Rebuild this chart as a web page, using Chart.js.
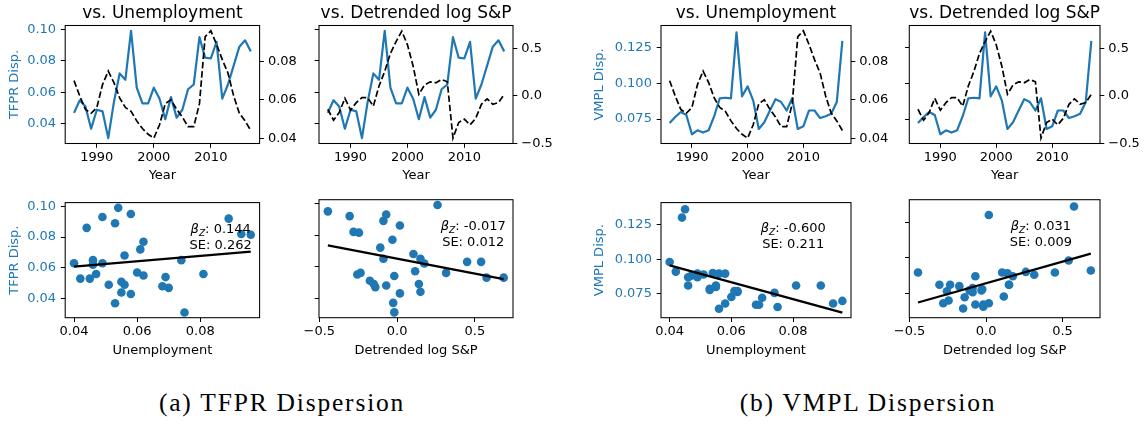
<!DOCTYPE html>
<html>
<head>
<meta charset="utf-8">
<script src="https://cdn.jsdelivr.net/npm/chart.js@4.4.1/dist/chart.umd.min.js"></script>
<style>
  html, body { margin: 0; padding: 0; background: #fff; }
  #fig { position: relative; width: 1146px; height: 423px; overflow: hidden; background: #fff; }
  #fig canvas { position: absolute; }
  .cap {
    position: absolute; top: 390px; transform: translateX(-50%);
    font-family: "Liberation Serif", serif; font-size: 25.5px; letter-spacing: 1.8px;
    line-height: 1; white-space: nowrap; color: #000;
  }
</style>
</head>
<body>
<div id="fig">
  <div class="cap" style="left:282px">(a) TFPR Dispersion</div>
  <div class="cap" style="left:868px">(b) VMPL Dispersion</div>
</div>
<script>
// ---- data ----
const years = [1986, 1987, 1988, 1989, 1990, 1991, 1992, 1993, 1994, 1995, 1996,
               1997, 1998, 1999, 2000, 2001, 2002, 2003, 2004, 2005, 2006, 2007,
               2008, 2009, 2010, 2011, 2012, 2013, 2014, 2015, 2016, 2017];
const tfprDisp = [0.047, 0.055, 0.051, 0.037, 0.049, 0.048, 0.031, 0.054, 0.072, 0.068, 0.099,
                  0.063, 0.053, 0.053, 0.063, 0.056, 0.043, 0.057, 0.044, 0.049, 0.062, 0.065,
                  0.095, 0.082, 0.0815, 0.092, 0.056, 0.065, 0.077, 0.089, 0.093, 0.086];
const vmplDisp = [0.0722, 0.0764, 0.080, 0.0778, 0.0643, 0.0671, 0.0655, 0.0671, 0.077, 0.0896, 0.090,
                  0.0896, 0.136, 0.091, 0.098, 0.088, 0.068, 0.0727, 0.081, 0.089, 0.087, 0.081,
                  0.0896, 0.068, 0.0699, 0.081, 0.081, 0.0757, 0.077, 0.0787, 0.087, 0.130];
const unemployment = [0.070, 0.062, 0.055, 0.053, 0.056, 0.068, 0.075, 0.069, 0.061, 0.056, 0.054,
                      0.049, 0.045, 0.042, 0.040, 0.047, 0.058, 0.060, 0.055, 0.051, 0.046, 0.046,
                      0.058, 0.093, 0.096, 0.089, 0.081, 0.074, 0.062, 0.053, 0.049, 0.044];
const detrendedSP = [-0.14, -0.256, -0.175, -0.025, -0.15, -0.07, -0.018, -0.018, -0.108, 0.105, 0.26,
                     0.45, 0.575, 0.685, 0.54, 0.315, 0.018, 0.116, 0.15, 0.14, 0.175, 0.15,
                     -0.445, -0.28, -0.245, -0.305, -0.235, -0.088, -0.03, -0.088, -0.07, 0.018];

// fitted lines in the scatter panels (end points)
const fitTfprUnempX = [0.040, 0.096], fitTfprUnempY = [0.0608, 0.0706];
const fitTfprSpX    = [-0.445, 0.685], fitTfprSpY  = [0.0735, 0.052];
const fitVmplUnempX = [0.040, 0.096], fitVmplUnempY = [0.0956, 0.0614];
const fitVmplSpX    = [-0.445, 0.685], fitVmplSpY  = [0.0685, 0.1028];

// regression stats shown in the panels: [beta, SE]
const statTfprUnemp = ['0.144', '0.262'];
const statTfprSp    = ['-0.017', '0.012'];
const statVmplUnemp = ['-0.600', '0.211'];
const statVmplSp    = ['0.031', '0.009'];

// ticks and axis limits
const yearTicks = [1990, 2000, 2010];
const unempTicks = [0.04, 0.06, 0.08];
const spTicks = [-0.5, 0, 0.5];
const tfprTicks = [0.04, 0.06, 0.08, 0.10];
const vmplTicks = [0.075, 0.100, 0.125];

const yearRange = [1984.45, 2018.55];
const unempRange = [0.0372, 0.0988];
const spRange = [-0.502, 0.745];
const tfprRange = [0.0276, 0.1024];
const vmplRange = [0.0578, 0.1408];

// ---- styling ----
const BLUE = '#1f77b4';
const FONT = '"DejaVu Sans", sans-serif';
const TICK_PX = 13, LABEL_PX = 13, TITLE_PX = 17;
const TICK_LEN = 4.3;
const LH = 1.2;

Chart.defaults.font.family = FONT;
Chart.defaults.animation = false;

const f2 = v => v.toFixed(2);
const f3 = v => v.toFixed(3);
const f1 = v => (v < 0 ? '\u2212' : '') + Math.abs(v).toFixed(1);

// plot boxes in page pixels
const cols = { a: [65.2, 259.6], b: [319, 513], c: [661, 851], d: [909.3, 1100] };
const rows = {
  top:    { t: 25.5,  b: 143.5, y0: 0,   h: 190, xTitleMid: 176,   xPad: 2.2 },
  bottom: { t: 199.7, b: 317.7, y0: 190, h: 175, xTitleMid: 351,   xPad: 2.0 },
};
const yTitleMid = { a: 14.4, c: 600 };

const pairs = (xs, ys) => xs.map((x, i) => ({ x, y: ys[i] }));

function axis(o) {
  return {
    type: 'linear', position: o.pos, min: o.range[0], max: o.range[1],
    afterBuildTicks: s => { s.ticks = o.ticks.map(v => ({ value: v })); },
    afterFit: s => { if (s.isHorizontal()) s.height = o.size; else s.width = o.size; },
    border: { display: false },
    grid: { drawOnChartArea: false, drawTicks: true, tickLength: TICK_LEN, tickWidth: 1, tickColor: '#000' },
    ticks: {
      display: o.labels !== false, color: o.color || '#000', padding: o.pad,
      maxRotation: 0, autoSkip: false,
      font: { size: TICK_PX, lineHeight: LH }, callback: v => o.fmt(v),
    },
    title: o.title
      ? { display: true, text: o.title, color: o.titleColor || '#000', padding: o.titlePad,
          font: { size: LABEL_PX, lineHeight: LH } }
      : { display: false },
  };
}

const notes = {
  id: 'notes',
  afterDatasetsDraw(chart, args, o) {
    const { ctx, chartArea: a } = chart;
    const w = a.right - a.left, h = a.bottom - a.top;
    ctx.save();
    ctx.strokeStyle = '#000';
    ctx.lineWidth = 1.05;
    ctx.strokeRect(a.left, a.top, w, h);
    ctx.fillStyle = '#000';
    ctx.textBaseline = 'alphabetic';
    if (o.title) {
      ctx.font = `${TITLE_PX}px ${FONT}`;
      ctx.textAlign = 'center';
      ctx.fillText(o.title, a.left + w / 2, o.titleBase);
    }
    if (o.stat) {
      const cx = a.left + o.fx * w;
      const base1 = a.top + o.fy[0] * h, base2 = a.top + o.fy[1] * h;
      const parts = [
        { t: '\u03b2', font: `italic ${TICK_PX}px ${FONT}`, dy: 0 },
        { t: 'Z', font: `italic ${TICK_PX * 0.7}px ${FONT}`, dy: TICK_PX * 0.2 },
        { t: ': ' + o.stat[0], font: `${TICK_PX}px ${FONT}`, dy: 0 },
      ];
      let total = 0;
      parts.forEach(p => { ctx.font = p.font; p.w = ctx.measureText(p.t).width; total += p.w; });
      let x = cx - total / 2;
      ctx.textAlign = 'left';
      parts.forEach(p => { ctx.font = p.font; ctx.fillText(p.t, x, base1 + p.dy); x += p.w; });
      ctx.font = `${TICK_PX}px ${FONT}`;
      ctx.textAlign = 'center';
      ctx.fillText('SE: ' + o.stat[1], cx, base2);
    }
    ctx.restore();
  },
};

function panel(col, rowKey, spec) {
  const [L, R] = cols[col];
  const row = rows[rowKey];
  const x0 = Math.max(0, Math.floor(L - spec.ml));
  const x1 = Math.ceil(R + spec.mr);
  const cv = document.createElement('canvas');
  cv.width = x1 - x0;
  cv.height = row.h;
  cv.style.left = x0 + 'px';
  cv.style.top = row.y0 + 'px';
  cv.style.width = (x1 - x0) + 'px';
  cv.style.height = row.h + 'px';
  document.getElementById('fig').appendChild(cv);

  const leftW = L - x0, rightW = x1 - R;
  const bottomH = row.y0 + row.h - row.b;
  const topPad = row.t - row.y0;
  const halfLine = LABEL_PX * LH / 2;

  const scales = {
    x: axis({
      pos: 'bottom', range: spec.xRange, ticks: spec.xTicks, fmt: spec.xFmt, size: bottomH, pad: row.xPad,
      title: spec.xTitle, titlePad: { top: 0, bottom: row.y0 + row.h - row.xTitleMid - halfLine },
    }),
    y: axis({
      pos: 'left', range: spec.yRange, ticks: spec.yTicks, fmt: spec.yFmt, size: leftW, pad: 4.8,
      labels: spec.yLabels, color: BLUE, title: spec.yTitle, titleColor: BLUE,
      titlePad: { top: spec.yTitle ? yTitleMid[col] - x0 - halfLine : 0, bottom: 0 },
    }),
  };
  if (spec.y2Range) {
    scales.y2 = axis({
      pos: 'right', range: spec.y2Range, ticks: spec.y2Ticks, fmt: spec.y2Fmt, size: rightW, pad: 4,
    });
  }

  new Chart(cv, {
    type: 'scatter',
    data: { datasets: spec.datasets },
    options: {
      responsive: false, animation: false, events: [],
      layout: { autoPadding: false, padding: { top: topPad, left: 0, bottom: 0, right: spec.y2Range ? 0 : rightW } },
      plugins: { legend: { display: false }, tooltip: { enabled: false }, title: { display: false }, notes: spec.notes },
      scales,
    },
    plugins: [notes],
  });
}

function seriesPanel(col, disp, dispRange, dispTicks, dispFmt, other, otherRange, otherTicks, otherFmt, labelled, yTitle, title) {
  panel(col, 'top', {
    ml: labelled ? (col === 'c' ? 70 : 66) : 40, mr: 45,
    xRange: yearRange, xTicks: yearTicks, xFmt: v => String(v), xTitle: 'Year',
    yRange: dispRange, yTicks: dispTicks, yFmt: dispFmt, yLabels: labelled, yTitle: labelled ? yTitle : null,
    y2Range: otherRange, y2Ticks: otherTicks, y2Fmt: otherFmt,
    notes: { title, titleBase: 17.5 },
    datasets: [
      { data: pairs(years, other), yAxisID: 'y2', showLine: true, pointRadius: 0, borderColor: '#000',
        borderWidth: 1.7, borderDash: [6.5, 2.8], order: 0 },
      { data: pairs(years, disp), yAxisID: 'y', showLine: true, pointRadius: 0, borderColor: BLUE,
        borderWidth: 2.2, borderJoinStyle: 'round', order: 1 },
    ],
  });
}

function scatterPanel(col, xs, xRange, xTicks, xFmt, xTitle, ys, yRange, yTicks, yFmt, labelled, yTitle, fitX, fitY, stat, fx, fy) {
  panel(col, 'bottom', {
    ml: labelled ? (col === 'c' ? 70 : 66) : 40, mr: 30,
    xRange, xTicks, xFmt, xTitle,
    yRange, yTicks, yFmt, yLabels: labelled, yTitle: labelled ? yTitle : null,
    notes: { stat, fx, fy },
    datasets: [
      { data: pairs(fitX, fitY), showLine: true, pointRadius: 0, borderColor: '#000', borderWidth: 2.3, order: 0 },
      { data: pairs(xs, ys), pointRadius: 4.3, backgroundColor: BLUE, borderWidth: 0, order: 1 },
    ],
  });
}

seriesPanel('a', tfprDisp, tfprRange, tfprTicks, f2, unemployment, unempRange, unempTicks, f2, true, 'TFPR Disp.', 'vs. Unemployment');
seriesPanel('b', tfprDisp, tfprRange, tfprTicks, f2, detrendedSP, spRange, spTicks, f1, false, 'TFPR Disp.', 'vs. Detrended log S&P');
seriesPanel('c', vmplDisp, vmplRange, vmplTicks, f3, unemployment, unempRange, unempTicks, f2, true, 'VMPL Disp.', 'vs. Unemployment');
seriesPanel('d', vmplDisp, vmplRange, vmplTicks, f3, detrendedSP, spRange, spTicks, f1, false, 'VMPL Disp.', 'vs. Detrended log S&P');

scatterPanel('a', unemployment, unempRange, unempTicks, f2, 'Unemployment', tfprDisp, tfprRange, tfprTicks, f2, true, 'TFPR Disp.',
             fitTfprUnempX, fitTfprUnempY, statTfprUnemp, 0.80, [0.265, 0.399]);
scatterPanel('b', detrendedSP, spRange, spTicks, f1, 'Detrended log S&P', tfprDisp, tfprRange, tfprTicks, f2, false, null,
             fitTfprSpX, fitTfprSpY, statTfprSp, 0.795, [0.257, 0.392]);
scatterPanel('c', unemployment, unempRange, unempTicks, f2, 'Unemployment', vmplDisp, vmplRange, vmplTicks, f3, true, 'VMPL Disp.',
             fitVmplUnempX, fitVmplUnempY, statVmplUnemp, 0.696, [0.257, 0.392]);
scatterPanel('d', detrendedSP, spRange, spTicks, f1, 'Detrended log S&P', vmplDisp, vmplRange, vmplTicks, f3, false, null,
             fitVmplSpX, fitVmplSpY, statVmplSp, 0.69, [0.257, 0.392]);
</script>
</body>
</html>
